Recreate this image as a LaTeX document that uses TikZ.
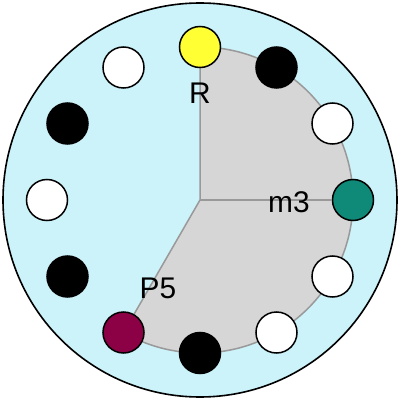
\documentclass[tikz,border=0pt]{standalone}
\usepackage{fontspec}
\setmainfont{Liberation Sans}
\definecolor{bgcyan}{RGB}{204,242,250}
\definecolor{sectgrey}{RGB}{214,214,214}
\definecolor{linegrey}{RGB}{153,153,153}
\definecolor{dotyellow}{RGB}{255,255,51}
\definecolor{dotteal}{RGB}{16,138,120}
\definecolor{dotmaroon}{RGB}{140,0,70}
\begin{document}
\begin{tikzpicture}[x=1bp,y=1bp,
  dot/.style={circle,draw=black,line width=1.5bp,minimum size=41bp,inner sep=0pt},
  lbl/.style={font=\fontsize{30}{34}\selectfont,inner sep=0pt}]
\useasboundingbox (0,0) rectangle (400,400);
\begin{scope}[shift={(200,200)}]
\coordinate (c) at (0,0);
\draw[fill=bgcyan,line width=1.6bp] (c) circle (197);
\filldraw[fill=sectgrey,draw=linegrey,line width=1.5bp] (c) -- (90:153) arc[start angle=90,end angle=-120,radius=153] -- cycle;
\node[dot,fill=dotyellow] (n90) at (90:153) {};
\node[dot,fill=black] (n60) at (60:153) {};
\node[dot,fill=white] (n30) at (30:153) {};
\node[dot,fill=dotteal] (n0) at (0:153) {};
\node[dot,fill=white] (nm30) at (-30:153) {};
\node[dot,fill=white] (nm60) at (-60:153) {};
\node[dot,fill=black] (nm90) at (-90:153) {};
\node[dot,fill=dotmaroon] (nm120) at (-120:153) {};
\node[dot,fill=black] (nm150) at (-150:153) {};
\node[dot,fill=white] (n180) at (180:153) {};
\node[dot,fill=black] (n150) at (150:153) {};
\node[dot,fill=white] (n120) at (120:153) {};
\draw[linegrey,line width=1.5bp] (c) -- (n0);
\end{scope}
\node[lbl] (lR) at (200,307) {R};
\node[lbl] (lm3) at (289,198) {m3};
\node[lbl] (lP5) at (158,112) {P5};
\end{tikzpicture}
\end{document}
